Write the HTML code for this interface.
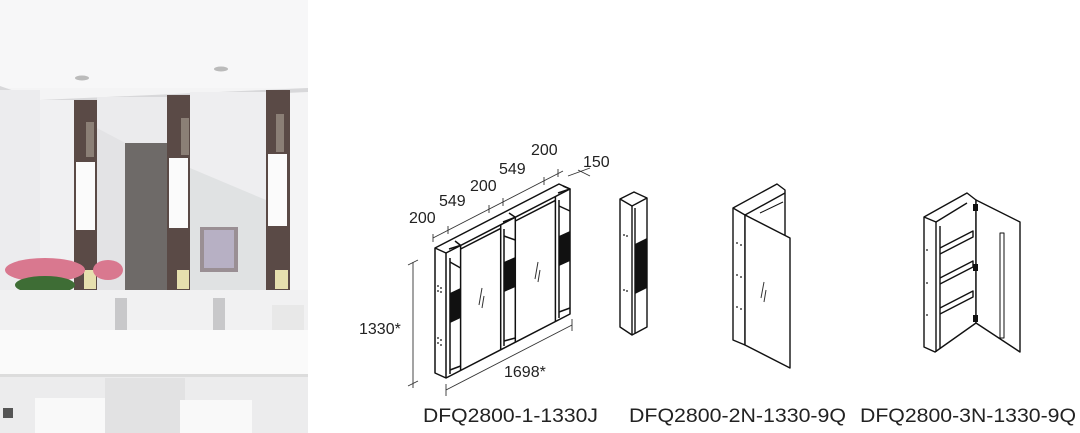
<!DOCTYPE html>
<html><head><meta charset="utf-8"><style>
html,body{margin:0;padding:0;background:#fff;}
svg{display:block;}
text{font-family:"Liberation Sans",sans-serif;fill:#222;}
</style></head><body>
<svg width="1080" height="433" viewBox="0 0 1080 433" xmlns="http://www.w3.org/2000/svg">
<!-- PHOTO -->
<rect x="0" y="0" width="308" height="433" fill="#f4f4f5"/>
<rect x="0" y="0" width="308" height="88" fill="#f7f7f8"/>
<polygon points="0,86 40,100 308,88 308,92 40,104 0,90" fill="#d8d8da"/>
<ellipse cx="82" cy="78" rx="7" ry="2.5" fill="#bbb"/>
<ellipse cx="221" cy="69" rx="7" ry="2.5" fill="#bbb"/>
<rect x="0" y="90" width="40" height="245" fill="#ececee"/>
<rect x="40" y="100" width="34" height="235" fill="#f0f0f2"/>
<rect x="74" y="100" width="23" height="190" fill="#5a4a46"/>
<rect x="167" y="95" width="23" height="195" fill="#5a4a46"/>
<rect x="266" y="90" width="24" height="200" fill="#5a4a46"/>
<rect x="76" y="162" width="19" height="68" fill="#fbfbfb"/>
<rect x="169" y="158" width="19" height="70" fill="#fbfbfb"/>
<rect x="268" y="154" width="19" height="72" fill="#fbfbfb"/>
<rect x="86" y="122" width="8" height="35" fill="#8b7f76"/>
<rect x="181" y="118" width="8" height="37" fill="#8b7f76"/>
<rect x="276" y="114" width="8" height="38" fill="#8b7f76"/>
<rect x="84" y="270" width="12" height="19" fill="#e6dfae"/>
<rect x="177" y="270" width="12" height="19" fill="#e6dfae"/>
<rect x="275" y="270" width="13" height="19" fill="#e6dfae"/>
<rect x="97" y="97" width="70" height="193" fill="#ebebed"/>
<rect x="190" y="92" width="76" height="198" fill="#eeeef0"/>
<polygon points="97,128 167,165 167,290 97,290" fill="#e3e3e5"/>
<rect x="125" y="143" width="42" height="147" fill="#6e6a68"/>
<polygon points="190,168 266,200 266,290 190,290" fill="#e0e2e3"/>
<rect x="200" y="227" width="38" height="45" fill="#9a8f94"/>
<rect x="204" y="230" width="30" height="38" fill="#b7b0c4"/>
<ellipse cx="45" cy="270" rx="40" ry="12" fill="#d9788f"/>
<ellipse cx="108" cy="270" rx="15" ry="10" fill="#d9788f"/>
<ellipse cx="45" cy="285" rx="30" ry="9" fill="#3e6d35"/>
<rect x="37" y="292" width="18" height="37" fill="#dfe3dc"/>
<rect x="0" y="290" width="308" height="40" fill="#f1f1f2"/>
<rect x="115" y="298" width="12" height="32" fill="#c8c8ca"/>
<rect x="213" y="298" width="12" height="32" fill="#c8c8ca"/>
<rect x="272" y="305" width="32" height="28" fill="#e8e8e8"/>
<rect x="0" y="330" width="308" height="46" fill="#fafafa"/>
<rect x="0" y="374" width="308" height="3" fill="#dcdcdc"/>
<rect x="0" y="377" width="308" height="56" fill="#ececed"/>
<rect x="105" y="378" width="80" height="55" fill="#e2e2e3"/>
<rect x="35" y="398" width="70" height="35" fill="#f9f9f9"/>
<rect x="180" y="400" width="72" height="33" fill="#f9f9f9"/>
<rect x="3" y="408" width="10" height="10" fill="#555"/>

<!-- DIAGRAM 1 -->
<g fill="none" stroke="#111" stroke-width="1.5" stroke-linejoin="round">
<polygon points="435,248 559,184 570,189 570,314 446,378 435,373" fill="#fff"/>
<line x1="446" y1="253" x2="570" y2="189"/>
<line x1="446" y1="253" x2="446" y2="378"/>
<line x1="435" y1="248" x2="446" y2="253"/>
<line x1="460.6" y1="245.4" x2="460.6" y2="370.4"/>
<line x1="500.7" y1="224.8" x2="500.7" y2="349.8"/>
<line x1="515.3" y1="217.2" x2="515.3" y2="342.2"/>
<line x1="555.4" y1="196.6" x2="555.4" y2="321.6"/>
<polyline points="449,249 460.6,245.4 455,241"/>
<polyline points="503,222 515.3,217.2 509,213"/>
<polyline points="558,193 570,189 563,186"/>
<line x1="460.6" y1="249" x2="500.7" y2="228.4"/>
<line x1="515.3" y1="221" x2="555.4" y2="200.4"/>
<line x1="450" y1="258" x2="450" y2="374"/>
<line x1="504" y1="229" x2="504" y2="346"/>
<line x1="559" y1="200" x2="559" y2="318"/>
<polyline points="450,262 460.6,268"/>
<polyline points="450,370 460.6,366"/>
<polyline points="504,236 515.3,240"/>
<polyline points="504,341 515.3,338"/>
<polyline points="559,206 570,211"/>
<polyline points="559,312 570,308"/>
</g>
<polygon points="450,293 460.6,288 460.6,318 450,323" fill="#111"/>
<polygon points="504,262 515.3,257 515.3,287 504,292" fill="#111"/>
<polygon points="559,236 570,231 570,261 559,266" fill="#111"/>
<g fill="#111">
<circle cx="438" cy="286" r="0.9"/><circle cx="441" cy="288" r="0.9"/><circle cx="438" cy="291" r="0.9"/><circle cx="441" cy="292" r="0.9"/>
<circle cx="438" cy="338" r="0.9"/><circle cx="441" cy="340" r="0.9"/><circle cx="438" cy="343" r="0.9"/><circle cx="441" cy="345" r="0.9"/>
</g>
<g stroke="#333" stroke-width="1">
<line x1="482" y1="288" x2="479" y2="305"/><line x1="484" y1="296" x2="482" y2="308"/>
<line x1="538" y1="262" x2="535" y2="279"/><line x1="540" y1="270" x2="538" y2="282"/>
</g>
<g stroke="#333" stroke-width="0.9" fill="none">
<line x1="433" y1="238" x2="563" y2="171"/>
<line x1="433" y1="234" x2="433" y2="242"/>
<line x1="448" y1="226" x2="448" y2="234"/>
<line x1="489" y1="205" x2="489" y2="213"/>
<line x1="503" y1="198" x2="503" y2="206"/>
<line x1="544" y1="177" x2="544" y2="185"/>
<line x1="558" y1="169" x2="558" y2="177"/>
<line x1="568" y1="176" x2="590" y2="168"/>
<line x1="578" y1="170" x2="590" y2="176"/>
<line x1="413" y1="262" x2="413" y2="388"/>
<line x1="408" y1="265" x2="418" y2="260"/>
<line x1="408" y1="386" x2="418" y2="381"/>
<line x1="446" y1="390" x2="572" y2="325"/>
<line x1="446" y1="384" x2="446" y2="396"/>
<line x1="572" y1="319" x2="572" y2="331"/>
</g>
<g font-size="16">
<text x="409" y="223">200</text>
<text x="439" y="206">549</text>
<text x="470" y="191">200</text>
<text x="499" y="174">549</text>
<text x="531" y="155">200</text>
<text x="583" y="167">150</text>
<text x="359" y="334">1330*</text>
<text x="504" y="377">1698*</text>
</g>

<!-- DIAGRAM 2 -->
<g fill="#fff" stroke="#111" stroke-width="1.4" stroke-linejoin="round">
<polygon points="620,199 634,192 647,198 647,327 632,335 620,327"/>
<polyline points="620,199 632,206 647,198" fill="none"/>
<line x1="632" y1="206" x2="632" y2="335"/>
<line x1="635" y1="208" x2="635" y2="333"/>
</g>
<polygon points="635,244 647,238 647,288 635,294" fill="#111"/>
<g fill="#111"><circle cx="624" cy="235" r="0.9"/><circle cx="627" cy="236" r="0.9"/><circle cx="624" cy="290" r="0.9"/><circle cx="627" cy="291" r="0.9"/></g>

<!-- DIAGRAM 3 -->
<g fill="#fff" stroke="#111" stroke-width="1.4" stroke-linejoin="round">
<polygon points="733,208 777,184 785,190 785,237 745,215 745,345 733,340"/>
<line x1="733" y1="208" x2="745" y2="215"/>
<line x1="745" y1="215" x2="785" y2="193"/>
<polygon points="745,215 790,238 790,368 745,345"/>
<line x1="760" y1="213" x2="783" y2="202" stroke-width="1"/>
</g>
<g stroke="#333" stroke-width="1"><line x1="764" y1="282" x2="761" y2="298"/><line x1="766" y1="290" x2="764" y2="302"/></g>
<g fill="#111"><circle cx="737" cy="243" r="0.9"/><circle cx="741" cy="245" r="0.9"/><circle cx="737" cy="275" r="0.9"/><circle cx="741" cy="277" r="0.9"/><circle cx="737" cy="307" r="0.9"/><circle cx="741" cy="309" r="0.9"/></g>

<!-- DIAGRAM 4 -->
<g fill="#fff" stroke="#111" stroke-width="1.4" stroke-linejoin="round">
<polygon points="924,217 967,193 976,200 976,323 935,352 924,347"/>
<line x1="924" y1="217" x2="936" y2="222"/>
<line x1="936" y1="222" x2="936" y2="352"/>
<line x1="936" y1="222" x2="967" y2="203"/>
<line x1="940" y1="226" x2="940" y2="348"/>
<polyline points="940,248 973,231 973,237 940,254" fill="none"/>
<polyline points="940,278 973,261 973,267 940,284" fill="none"/>
<polyline points="940,308 973,291 973,297 940,314" fill="none"/>
<polygon points="976,200 1020,222 1020,352 976,323"/>
<rect x="1000" y="233" width="4" height="105" stroke-width="1" fill="none"/>
</g>
<g fill="#111"><rect x="973" y="204" width="5" height="7"/><rect x="973" y="264" width="5" height="7"/><rect x="973" y="315" width="5" height="7"/>
<circle cx="927" cy="250" r="0.9"/><circle cx="927" cy="283" r="0.9"/><circle cx="927" cy="315" r="0.9"/></g>

<g font-size="19">
<text x="423" y="422" textLength="175" lengthAdjust="spacingAndGlyphs">DFQ2800-1-1330J</text>
<text x="629" y="422" textLength="217" lengthAdjust="spacingAndGlyphs">DFQ2800-2N-1330-9Q</text>
<text x="860" y="422" textLength="216" lengthAdjust="spacingAndGlyphs">DFQ2800-3N-1330-9Q</text>
</g>
</svg>
</body></html>
